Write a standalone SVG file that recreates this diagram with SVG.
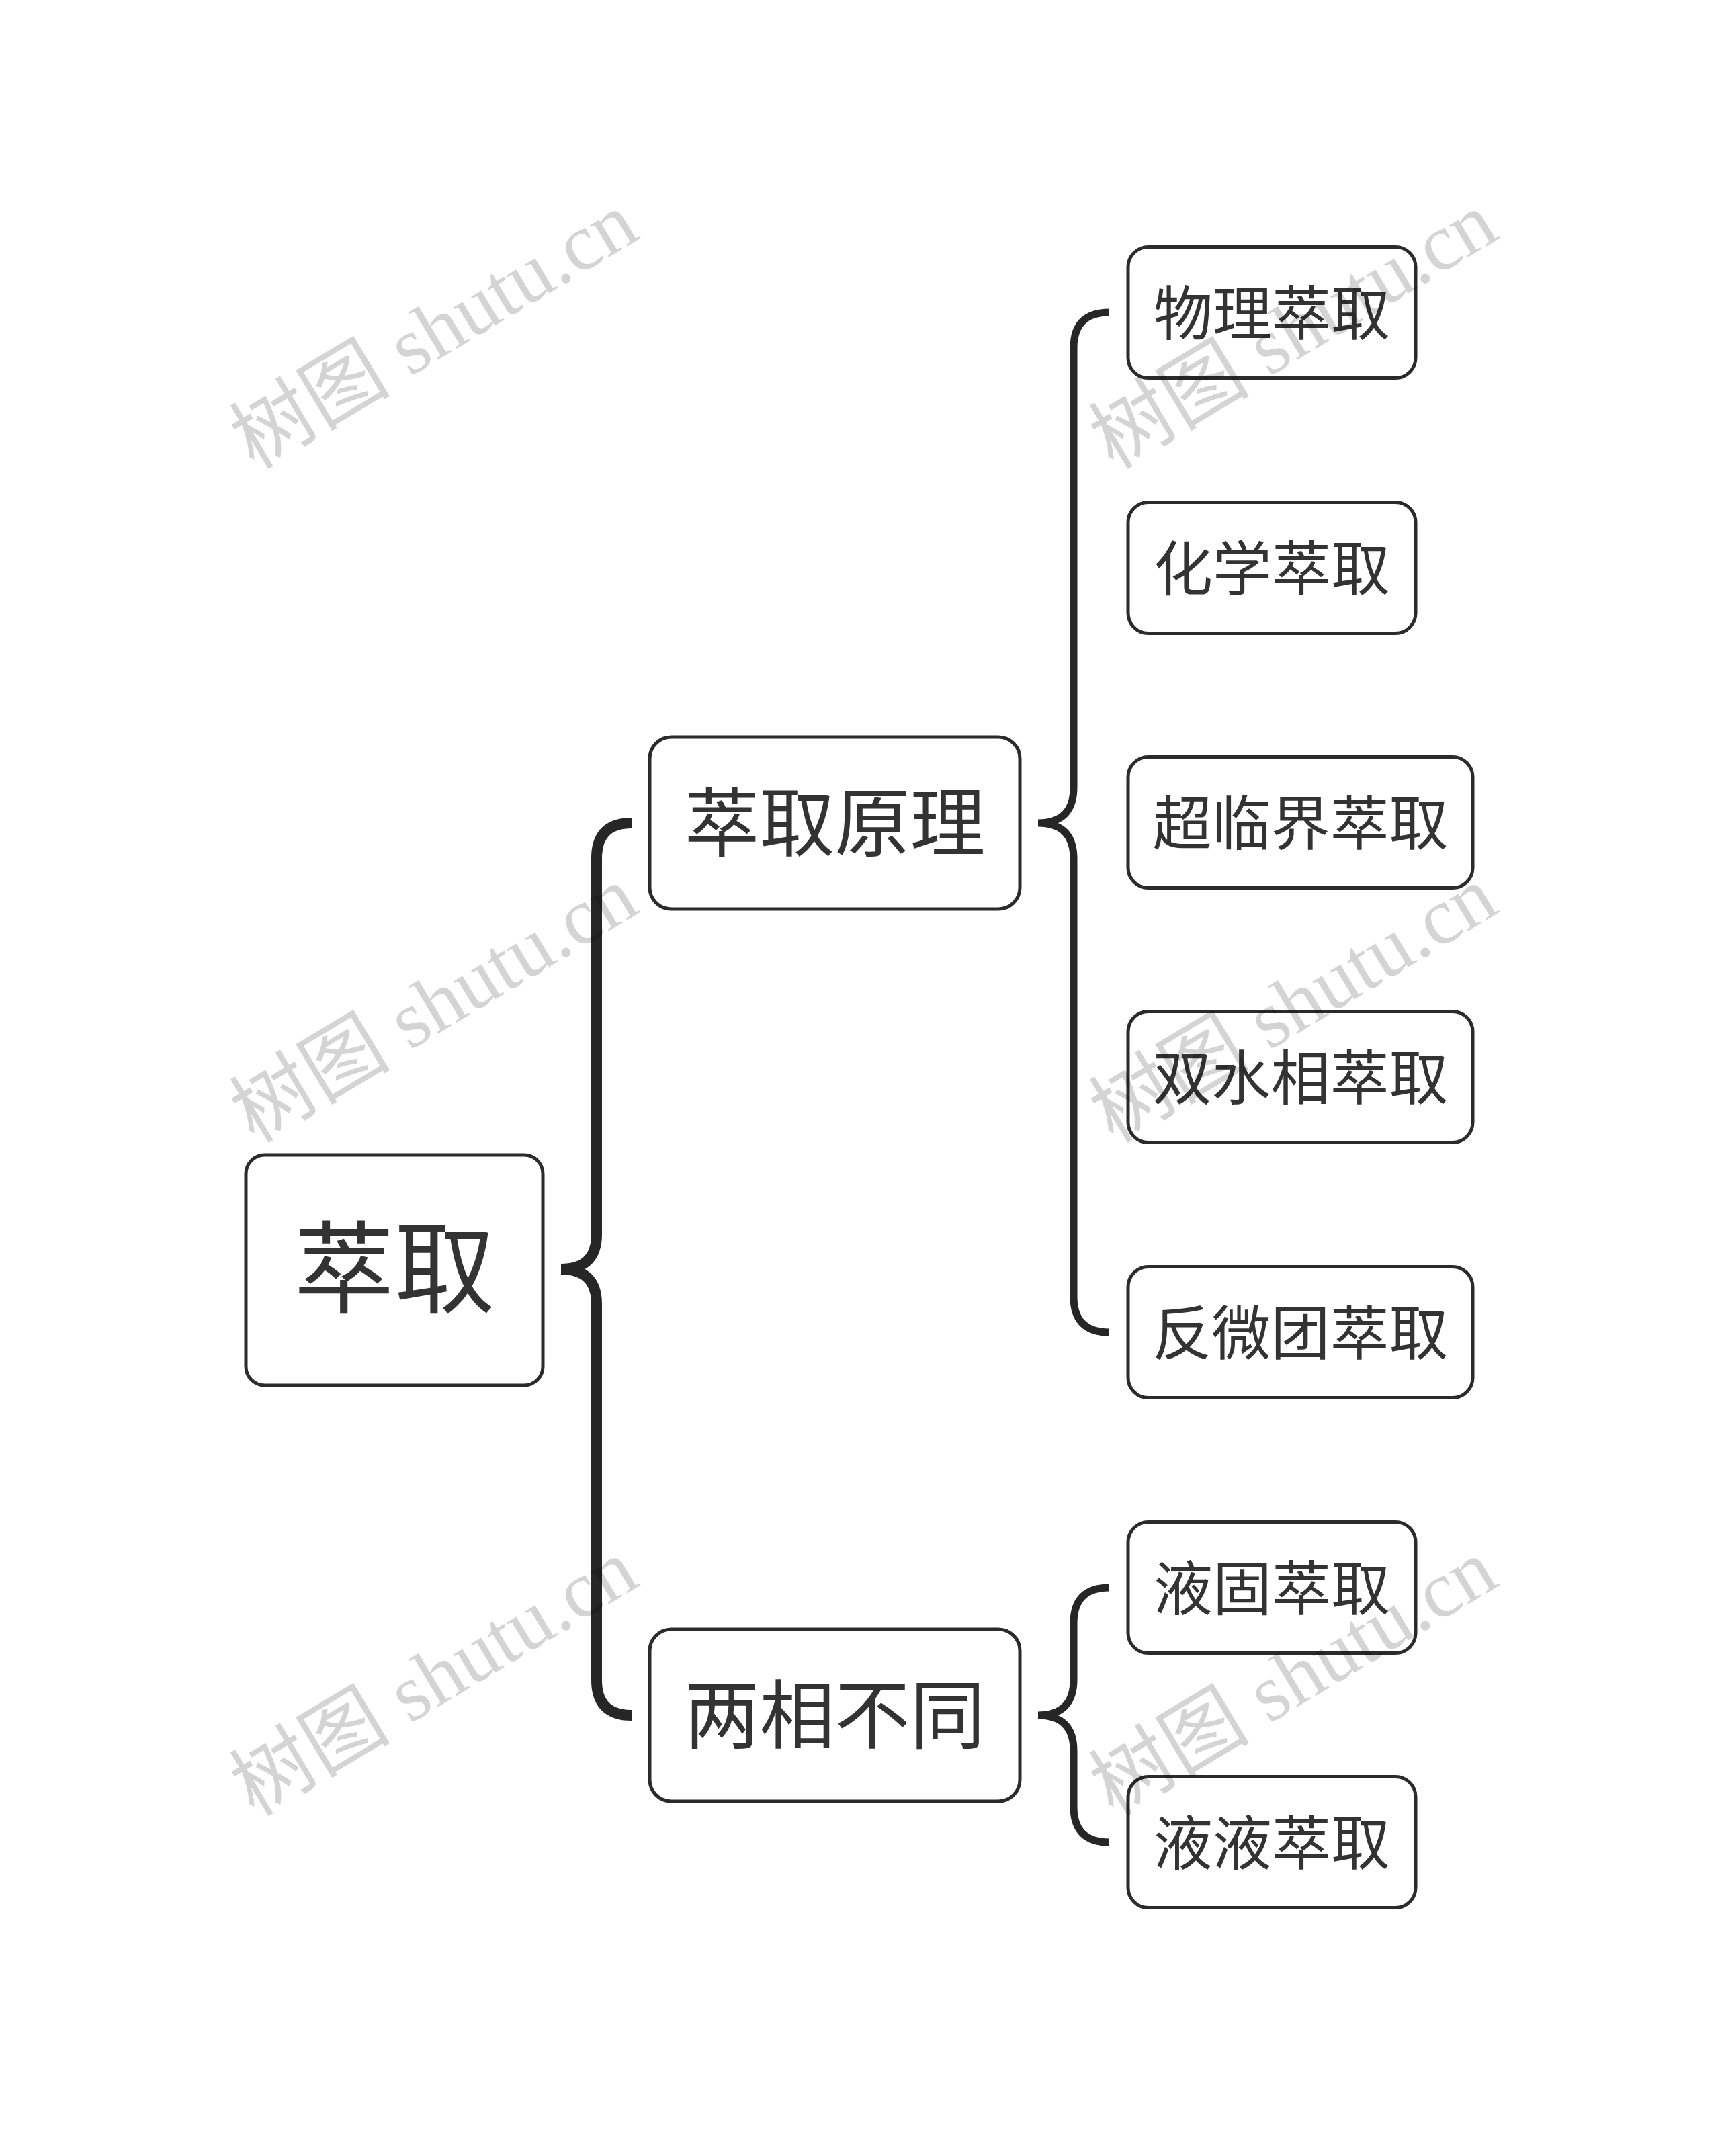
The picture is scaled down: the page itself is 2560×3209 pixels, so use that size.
<svg xmlns="http://www.w3.org/2000/svg" width="2560" height="3209" viewBox="0 0 2560 3209">
<style>
.box{fill:#fff;stroke:#2b2b2b;stroke-width:5}
.t{font-family:"Noto Sans CJK SC","Noto Sans",sans-serif;fill:#333;text-anchor:middle}
.t0{font-size:150px}
.t1{font-size:112px}
.t2{font-size:88px}
.br{fill:none;stroke:#262626;stroke-linecap:butt;stroke-linejoin:round}
.wm{font-family:"Liberation Serif","Noto Sans CJK SC",serif;font-size:120px;fill:#000;fill-opacity:0.17}
</style>
<rect width="2560" height="3209" fill="#fff"/>
<g id="connectors">
<path class="br" stroke-width="16" d="M940,1225 Q888,1225 888,1277 L888,1837 Q888,1889 835,1889 M835,1889 Q888,1889 888,1941 L888,2501 Q888,2553 940,2553"/>
<path class="br" stroke-width="11" d="M1651,465 Q1598,465 1598,518 L1598,1172 Q1598,1225 1545,1225 M1545,1225 Q1598,1225 1598,1278 L1598,1930 Q1598,1983 1651,1983"/>
<path class="br" stroke-width="11" d="M1651,2363 Q1598,2363 1598,2416 L1598,2500 Q1598,2553 1545,2553 M1545,2553 Q1598,2553 1598,2606 L1598,2689 Q1598,2742 1651,2742"/>
</g>
<g id="node-root"><rect class="box" x="366" y="1719" width="442" height="343" rx="28"/><text class="t t0" x="587" y="1943">萃取</text></g>
<g id="node-yuanli"><rect class="box" x="967" y="1097" width="551" height="256" rx="32"/><text class="t t1" x="1242.5" y="1266">萃取原理</text></g>
<g id="node-liangxiang"><rect class="box" x="967" y="2425" width="551" height="256" rx="32"/><text class="t t1" x="1242.5" y="2594">两相不同</text></g>
<g id="node-wuli"><rect class="box" x="1679" y="367.5" width="428" height="195" rx="30"/><text class="t t2" x="1893" y="498">物理萃取</text></g>
<g id="node-huaxue"><rect class="box" x="1679" y="747.5" width="428" height="195" rx="30"/><text class="t t2" x="1893" y="878">化学萃取</text></g>
<g id="node-chaolinjie"><rect class="box" x="1679" y="1126.5" width="513" height="195" rx="30"/><text class="t t2" x="1935.5" y="1257">超临界萃取</text></g>
<g id="node-shuangshui"><rect class="box" x="1679" y="1505.5" width="513" height="195" rx="30"/><text class="t t2" x="1935.5" y="1636">双水相萃取</text></g>
<g id="node-fanweituan"><rect class="box" x="1679" y="1885.5" width="513" height="195" rx="30"/><text class="t t2" x="1935.5" y="2016">反微团萃取</text></g>
<g id="node-yegu"><rect class="box" x="1679" y="2265.5" width="428" height="195" rx="30"/><text class="t t2" x="1893" y="2396">液固萃取</text></g>
<g id="node-yeye"><rect class="box" x="1679" y="2644.5" width="428" height="195" rx="30"/><text class="t t2" x="1893" y="2775">液液萃取</text></g>
<g id="watermarks">
<text class="wm" transform="translate(378,700) rotate(-31)">树图 shutu.cn</text>
<text class="wm" transform="translate(378,1703) rotate(-31)">树图 shutu.cn</text>
<text class="wm" transform="translate(378,2705) rotate(-31)">树图 shutu.cn</text>
<text class="wm" transform="translate(1657,700) rotate(-31)">树图 shutu.cn</text>
<text class="wm" transform="translate(1657,1703) rotate(-31)">树图 shutu.cn</text>
<text class="wm" transform="translate(1657,2705) rotate(-31)">树图 shutu.cn</text>
</g>
</svg>
